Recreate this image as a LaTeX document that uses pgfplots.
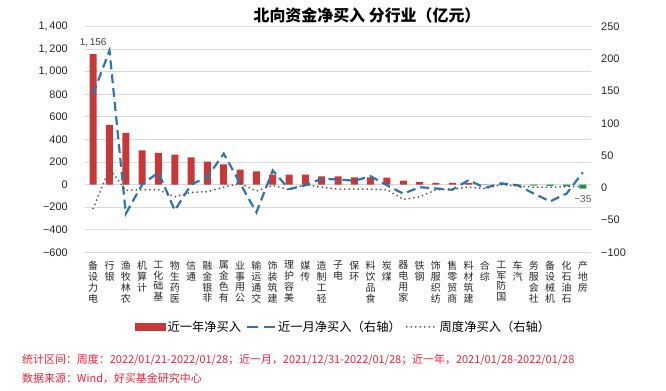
\documentclass[border=0pt]{standalone}
\usepackage{fontspec}
\setmainfont{Liberation Sans}
\newfontfamily\cjk{Noto Sans CJK SC}
\usepackage{pgfplots}
\pgfplotsset{compat=1.18}
\definecolor{barred}{RGB}{200,56,56}
\definecolor{bargreen}{RGB}{30,150,80}
\definecolor{lineblue}{RGB}{46,117,182}
\definecolor{dotgray}{RGB}{89,89,89}
\definecolor{footred}{RGB}{255,30,50}
\definecolor{gridgray}{RGB}{217,217,217}
\pgfplotsset{
  barleg/.style={legend image code/.code={\fill[barred] (0bp,-3.4bp) rectangle (30bp,3.4bp);}},
  dashleg/.style={legend image code/.code={\draw[lineblue, line width=2.2bp, dash pattern=on 11bp off 6bp] (0bp,0bp) -- (28bp,0bp);}},
  dotleg/.style={legend image code/.code={\draw[dotgray, line width=2bp, line cap=round, dash pattern=on 0bp off 4.5bp] (0bp,0bp) -- (30bp,0bp);}},
}
\begin{document}
\begin{tikzpicture}[x=1bp,y=1bp]
\useasboundingbox (0,0) rectangle (666,390);
\node[font=\cjk\bfseries\fontsize{16}{18}\selectfont, inner sep=0] at (367,375) {北向资金净买入 分行业（亿元）};
\begin{axis}[
  at={(85bp,137.7bp)}, anchor=south west, scale only axis,
  width=506bp, height=225.6bp,
  xmin=-0.5, xmax=30.5, ymin=-600, ymax=1400,
  ytick={-600,-400,...,1400},
  yticklabels={−600,−400,−200,0,200,400,600,800,{1,\,000},{1,\,200},{1,\,400}},
  xtick={0,...,30},
  xticklabels={
    {备\\设\\力\\电},{行\\银},{渔\\牧\\林\\农},{机\\算\\计},{工\\化\\础\\基},
    {物\\生\\药\\医},{信\\通},{融\\金\\银\\非},{属\\金\\色\\有},{业\\事\\用\\公},
    {输\\运\\通\\交},{饰\\装\\筑\\建},{理\\护\\容\\美},{媒\\传},{造\\制\\工\\轻},
    {子\\电},{保\\环},{料\\饮\\品\\食},{炭\\煤},{器\\电\\用\\家},
    {铁\\钢},{饰\\服\\织\\纺},{售\\零\\贸\\商},{料\\材\\筑\\建},{合\\综},
    {工\\军\\防\\国},{车\\汽},{务\\服\\会\\社},{备\\设\\械\\机},{化\\石\\油\\石},
    {产\\地\\房}},
  ymajorgrids, grid style={draw=gridgray, line width=1bp},
  axis line style={draw=none}, major tick length=0pt,
  ybar, bar width=7bp, bar shift=0pt,
  yticklabel style={font=\fontsize{11}{13}\selectfont, text=black!85, xshift=-13.7bp},
  xticklabel style={font=\cjk\fontsize{10}{11}\selectfont, align=center, anchor=north, yshift=-5bp, text=black!85},
  clip=false,
]
\addplot[fill=barred, draw=none] coordinates {
 (0,1156) (1,530) (2,459) (3,303) (4,282) (5,265) (6,241) (7,203) (8,180) (9,132)
 (10,118) (11,88) (12,88) (13,88) (14,74) (15,74) (16,65) (17,65) (18,62) (19,35)
 (20,24) (21,15) (22,15) (23,15) (24,3)};
\addplot[fill=bargreen, draw=none] coordinates {
 (25,-5) (26,-8) (27,-10) (28,-12) (29,-15) (30,-35)};
\addplot[draw=none, fill=none, nodes near coords={1,\,156},
  every node near coord/.append style={font=\fontsize{10}{12}\selectfont, text=black!75, anchor=south, yshift=4bp}]
  coordinates {(0,1156)};
\addplot[draw=none, fill=none, nodes near coords={−35},
  every node near coord/.append style={font=\fontsize{10}{12}\selectfont, text=dotgray, anchor=north, yshift=-3bp}]
  coordinates {(30,-35)};
\end{axis}
\begin{axis}[
  at={(85bp,137.7bp)}, anchor=south west, scale only axis,
  width=506bp, height=225.6bp,
  xmin=-0.5, xmax=30.5, ymin=-100, ymax=250,
  axis y line*=right, axis x line=none,
  ytick={-100,-50,...,250},
  yticklabels={−100,−50,0,50,100,150,200,250},
  axis line style={draw=none}, major tick length=0pt,
  yticklabel style={font=\fontsize{11}{13}\selectfont, text=black!85, xshift=6.7bp},
  legend style={at={(0.511,-0.33)}, anchor=center, draw=none, fill=none,
    font=\cjk\fontsize{12.3}{14}\selectfont, legend columns=-1,
    /tikz/every even column/.append style={column sep=3bp}},
  clip=false,
]
\addlegendimage{barleg}
\addlegendentry{近一年净买入}
\addplot[lineblue, line width=2.2bp, dash pattern=on 9bp off 5bp, dashleg]
  coordinates {
 (0,146) (1,213) (2,-40) (3,5) (4,24) (5,-35) (6,5) (7,17) (8,53) (9,7)
 (10,-38) (11,27) (12,-2) (13,4) (14,14) (15,13) (16,11) (17,18) (18,4) (19,-9)
 (20,1) (21,-1) (22,-3) (23,12) (24,0) (25,7) (26,4) (27,-9) (28,-21) (29,-9) (30,24)};
\addlegendentry{近一月净买入（右轴）}
\addplot[dotgray, line width=2bp, line cap=round, dash pattern=on 0bp off 4.5bp, dotleg]
  coordinates {
 (0,-32) (1,30) (2,-4) (3,-3) (4,-3) (5,-14) (6,-7) (7,-6) (8,1) (9,7)
 (10,-5) (11,4) (12,-3) (13,5) (14,1) (15,-2) (16,-2) (17,-2) (18,-3) (19,-18)
 (20,-14) (21,-3) (22,-2) (23,1) (24,-1) (25,5) (26,3) (27,1) (28,1) (29,2) (30,2)};
\addlegendentry{周度净买入（右轴）}
\end{axis}
\node[anchor=west, font=\cjk\fontsize{11}{13}\selectfont, text=footred, inner sep=0] at (22,30)
  {统计区间：周度：2022/01/21-2022/01/28；近一月，2021/12/31-2022/01/28；近一年，2021/01/28-2022/01/28};
\node[anchor=west, font=\cjk\fontsize{11}{13}\selectfont, text=footred, inner sep=0] at (22,12)
  {数据来源：Wind，好买基金研究中心};
\end{tikzpicture}
\end{document}
